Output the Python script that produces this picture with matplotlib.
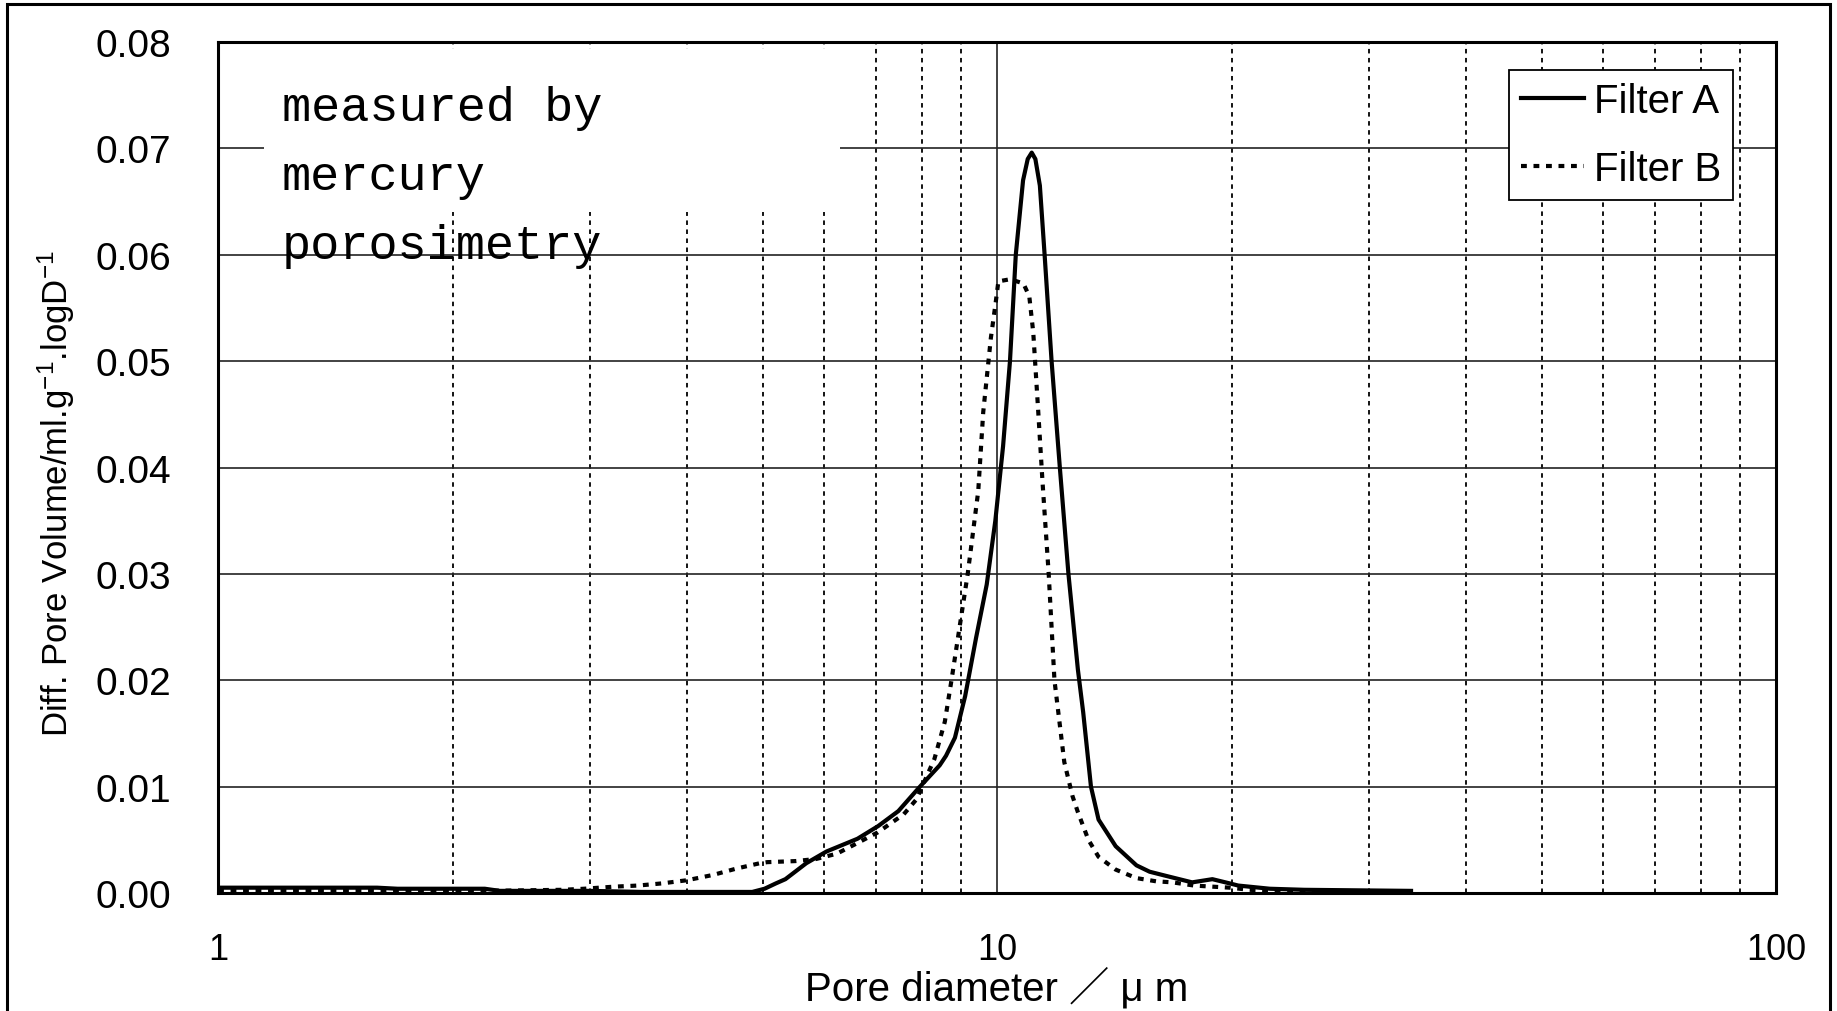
"""
Pore size distribution of two filters (mercury porosimetry)
"""
import matplotlib
matplotlib.use('Agg')
import matplotlib.pyplot as plt
from matplotlib.patches import Rectangle
from matplotlib.ticker import LogLocator, NullFormatter, FixedLocator, FixedFormatter

plt.rcParams['font.family'] = ['Liberation Sans', 'Noto Sans CJK JP', 'DejaVu Sans']
plt.rcParams['mathtext.fontset'] = 'custom'
plt.rcParams['mathtext.rm'] = 'Liberation Sans'
plt.rcParams['mathtext.it'] = 'Liberation Sans:italic'

# Filter A (solid)
diam_a = [1.0, 1.6, 1.7, 2.2, 2.3, 3.0, 3.5, 4.5, 4.85, 5.03, 5.2, 5.35, 5.69,
          6.04, 6.62, 7.04, 7.47, 7.94, 8.44, 8.6, 8.83, 9.10, 9.4, 9.7, 9.95,
          10.18, 10.39, 10.57, 10.8, 10.95, 11.08, 11.2, 11.35, 11.51, 11.75,
          12.04, 12.35, 12.7, 12.9, 13.2, 13.5, 14.2, 15.1, 15.7, 16.5, 17.8,
          18.9, 19.9, 20.4, 22.4, 24.8, 34.0]
vol_a = [0.0005, 0.0005, 0.0004, 0.0004, 0.0002, 0.0002, 0.0001, 0.0001, 0.0001,
         0.0004, 0.0009, 0.0013, 0.0028, 0.0039, 0.0051, 0.0063, 0.0077, 0.0099,
         0.0120, 0.0129, 0.0146, 0.0185, 0.0240, 0.0290, 0.0350, 0.0420, 0.0500,
         0.0600, 0.0670, 0.0690, 0.0696, 0.0690, 0.0665, 0.0600, 0.0500, 0.0400,
         0.0300, 0.0210, 0.0170, 0.0100, 0.0069, 0.0044, 0.0026, 0.0020, 0.0016,
         0.0010, 0.0013, 0.0009, 0.0007, 0.0004, 0.0003, 0.0002]

# Filter B (dotted)
diam_b = [1.0, 2.2, 2.77, 2.95, 3.23, 3.46, 3.71, 4.0, 4.32, 4.63, 4.96, 5.07,
          5.51, 5.86, 6.23, 6.62, 7.03, 7.59, 7.88, 8.31, 8.57, 8.74, 9.17,
          9.46, 9.60, 9.82, 9.96, 10.04, 10.4, 10.81, 11.0, 11.13, 11.29, 11.44,
          11.65, 11.85, 12.2, 12.5, 12.7, 13.1, 13.5, 14.2, 15.1, 16.0, 16.8,
          17.9, 19.9, 21.1, 23.3, 34.0]
vol_b = [0.0002, 0.0002, 0.0003, 0.0004, 0.0006, 0.0007, 0.0009, 0.0012, 0.0017,
         0.0023, 0.0028, 0.0029, 0.0030, 0.0032, 0.0037, 0.0047, 0.0057, 0.0074,
         0.0088, 0.0126, 0.0161, 0.0200, 0.0300, 0.0378, 0.0452, 0.0522, 0.0555,
         0.0575, 0.0577, 0.0573, 0.0561, 0.0527, 0.0455, 0.0386, 0.0300, 0.0200,
         0.0123, 0.0091, 0.0076, 0.0050, 0.0034, 0.0022, 0.0014, 0.0011, 0.0010,
         0.0007, 0.0005, 0.0003, 0.0002, 0.0001]

y_ticks = [0.00, 0.01, 0.02, 0.03, 0.04, 0.05, 0.06, 0.07, 0.08]
x_ticks = [1, 10, 100]

fig = plt.figure(figsize=(18.37, 10.12), dpi=100)
ax = fig.add_axes([0.1187, 0.1166, 0.8481, 0.8409])

ax.set_xscale('log')
ax.set_xlim(1, 100)
ax.set_ylim(0, 0.08)

ax.xaxis.set_major_locator(FixedLocator(x_ticks))
ax.xaxis.set_major_formatter(FixedFormatter([str(v) for v in x_ticks]))
ax.xaxis.set_minor_locator(LogLocator(base=10, subs=range(2, 10)))
ax.xaxis.set_minor_formatter(NullFormatter())
ax.set_yticks(y_ticks)
ax.set_yticklabels([f'{v:.2f}' for v in y_ticks])
ax.tick_params(axis='both', which='both', length=0, labelsize=28)
ax.tick_params(axis='x', labelsize=26, pad=28)
ax.tick_params(axis='y', pad=34)

# grid
ax.set_axisbelow(True)
ax.grid(True, which='major', axis='y', color='#222222', linewidth=1.2)
ax.grid(True, which='major', axis='x', color='#222222', linewidth=1.2)
ax.grid(True, which='minor', axis='x', color='black', linewidth=1.3,
        linestyle=(0, (2.5, 2.5)))

for sp in ax.spines.values():
    sp.set_linewidth(2.2)

# white box behind the annotation
ax.add_patch(Rectangle((0.0295, 0.800), 0.3695, 0.192, transform=ax.transAxes,
                       facecolor='white', edgecolor='none', zorder=1))
ax.text(0.041, 0.842, 'measured by\nmercury\nporosimetry', transform=ax.transAxes,
        fontsize=35, family='Liberation Mono', va='center', ha='left',
        linespacing=1.68, zorder=3)

ax.plot(diam_a, vol_a, color='black', linewidth=3.0, label='Filter A', zorder=2)
ax.plot(diam_b, vol_b, color='black', linewidth=3.0, linestyle=(0, (1.4, 1.6)),
        label='Filter B', zorder=2)

leg = ax.legend(loc='upper right', bbox_to_anchor=(0.9724, 0.967), borderaxespad=0,
                fontsize=29, frameon=True, fancybox=False, framealpha=1,
                edgecolor='black', handlelength=1.55, handletextpad=0.25,
                labelspacing=0.75, borderpad=0.3)
leg.get_frame().set_linewidth(1.3)

fig.text(0.5427, 0.024, 'Pore diameter ／ μ m', fontsize=29, ha='center', va='center')
fig.text(0.0305, 0.512, r'Diff. Pore Volume/ml.g$^{-1}$.logD$^{-1}$', rotation=90,
         fontsize=25, ha='center', va='center')

# outer frame round the whole picture
fig.patches.append(Rectangle((7 / 1837, -0.01), 1823 / 1837, 1.01 - 5 / 1012,
                             transform=fig.transFigure, fill=False,
                             edgecolor='black', linewidth=2.2))

plt.savefig('out.png', dpi=100)
plt.close()
